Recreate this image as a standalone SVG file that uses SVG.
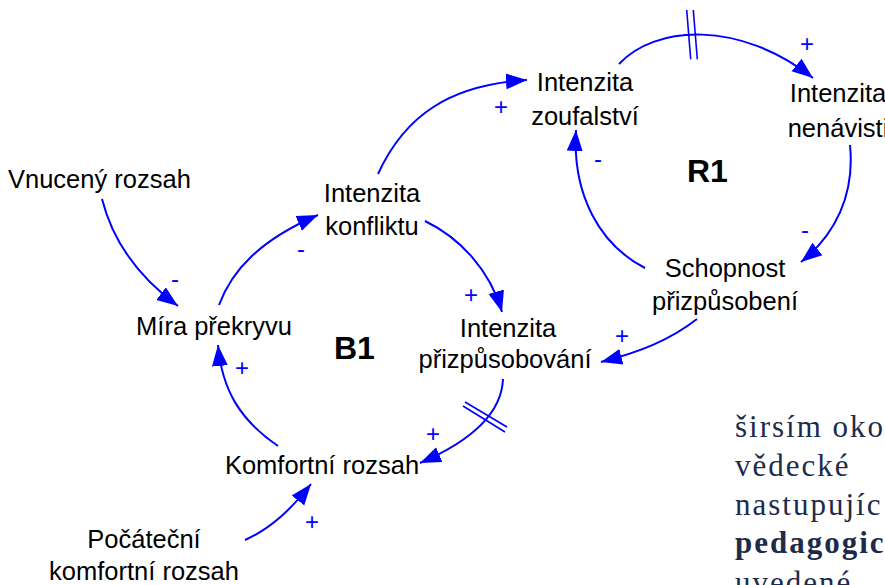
<svg xmlns="http://www.w3.org/2000/svg" width="885" height="585" viewBox="0 0 885 585">
<style>
.n{font-family:"Liberation Sans",Arial,sans-serif;font-size:25.5px;fill:#000;text-anchor:middle}
.l{font-family:"Liberation Sans",Arial,sans-serif;font-size:32px;font-weight:bold;fill:#000}
.s{font-family:"Liberation Sans",Arial,sans-serif;font-size:24px;fill:#0000ff;text-anchor:middle}
.c{fill:none;stroke:#0000ff;stroke-width:2;marker-end:url(#ah)}
.d{fill:none;stroke:#0000ff;stroke-width:1.6}
.p{font-family:"Liberation Serif","Times New Roman",serif;font-size:31px;fill:#1d2b4a;letter-spacing:2px}
</style>
<defs>
<marker id="ah" markerUnits="userSpaceOnUse" markerWidth="22" markerHeight="18" refX="21" refY="8" orient="auto" viewBox="0 0 22 16">
<path d="M0,0 L21,8 L0,16 z" fill="#0000ff"/>
</marker>
</defs>
<rect width="885" height="585" fill="#fff"/>
<g id="connectors">
<path class="c" d="M102,199 Q118,262 178,306"/>
<path class="c" d="M219,305 C232,270 260,240 318,215"/>
<path class="c" d="M378,174 C405,115 450,85 527,80"/>
<path class="c" d="M425,221 C460,238 490,270 502,312"/>
<path class="c" d="M619,64 C655,25 740,20 813,78"/>
<path class="d" d="M686.7,10 L690.7,59.3 M693.3,10 L697.3,59.3"/>
<path class="c" d="M850,145 C855,195 835,235 801,262"/>
<path class="c" d="M645,268 C600,245 572,195 576,130"/>
<path class="c" d="M697,319 C670,340 640,352 601,362"/>
<path class="c" d="M503,379 C502,405 485,435 420,463"/>
<path class="d" d="M465,402 L507,427 M463,406 L505,432"/>
<path class="c" d="M278,446 C240,420 222,390 218,345"/>
<path class="c" d="M245,540 C272,528 292,508 311,484"/>
<text class="s" x="175" y="287">-</text>
<text class="s" x="301" y="257">-</text>
<text class="s" x="501" y="115">+</text>
<text class="s" x="471" y="303">+</text>
<text class="s" x="807" y="52">+</text>
<text class="s" x="805" y="238">-</text>
<text class="s" x="598" y="167">-</text>
<text class="s" x="622" y="344">+</text>
<text class="s" x="433" y="442">+</text>
<text class="s" x="242" y="376">+</text>
<text class="s" x="312" y="530">+</text>
</g>
<g id="vnuceny"><text class="n" x="8" y="188" style="text-anchor:start">Vnucený rozsah</text></g>
<g id="konflikt"><text class="n" x="372" y="202">Intenzita</text><text class="n" x="372" y="235">konfliktu</text></g>
<g id="zoufalstvi"><text class="n" x="585" y="91">Intenzita</text><text class="n" x="585" y="125">zoufalství</text></g>
<g id="nenavist"><text class="n" x="838" y="102">Intenzita</text><text class="n" x="838" y="137">nenávisti</text></g>
<g id="schopnost"><text class="n" x="725" y="277">Schopnost</text><text class="n" x="725" y="310">přizpůsobení</text></g>
<g id="prizpusobovani"><text class="n" x="508" y="337">Intenzita</text><text class="n" x="505" y="368">přizpůsobování</text></g>
<g id="mira"><text class="n" x="214" y="335">Míra překryvu</text></g>
<g id="komfort"><text class="n" x="322" y="474">Komfortní rozsah</text></g>
<g id="pocatecni"><text class="n" x="144" y="548">Počáteční</text><text class="n" x="144" y="580">komfortní rozsah</text></g>
<g id="R1"><text class="l" x="687" y="182">R1</text></g>
<g id="B1"><text class="l" x="334" y="359">B1</text></g>
<g id="paragraph">
<text class="p" x="735" y="437">širsím oko</text>
<text class="p" x="735" y="476">vědecké</text>
<text class="p" x="735" y="515">nastupujíc</text>
<text class="p" x="735" y="553" font-weight="bold">pedagogic</text>
<text class="p" x="735" y="593">uvedené</text>
</g>
</svg>
